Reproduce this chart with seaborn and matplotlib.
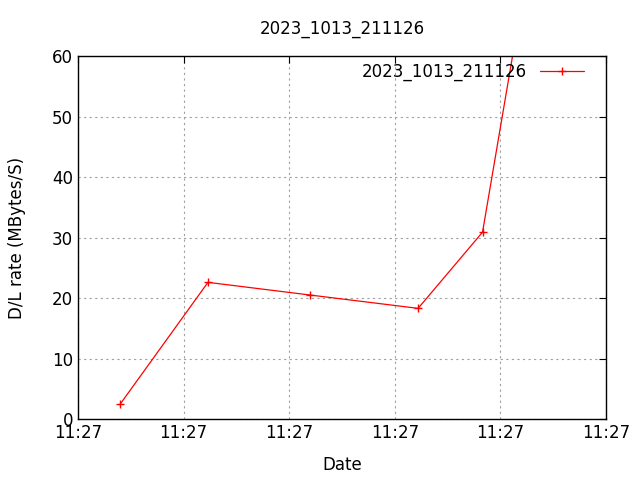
import seaborn as sns
import matplotlib.pyplot as plt
import pandas as pd

# elapsed seconds since 11:27:00 and download rate
seconds = [4.0, 12.3, 22.0, 32.2, 38.3, 42.0]
rates = [2.5, 22.6, 20.5, 18.3, 30.9, 68.8]
tick_pos = [0, 10, 20, 30, 40, 50]
tick_labels = ["11:27"] * 6
run_name = "2023_1013_211126"

df = pd.DataFrame({"Date": seconds, "rate": rates})

sns.set_style("white")
plt.rcParams['font.family'] = ['DejaVu Sans']
plt.rcParams['text.color'] = 'black'
plt.rcParams['axes.labelcolor'] = 'black'
fig, ax = plt.subplots(figsize=(6.4, 4.8), dpi=100)
fig.subplots_adjust(left=0.122, right=0.947, top=0.883, bottom=0.127)

sns.lineplot(data=df, x="Date", y="rate", ax=ax, color="red", linewidth=0.9,
             marker="+", markersize=6, markeredgewidth=1, markeredgecolor="red",
             dashes=False, label=run_name)

ax.set_xlim(0, 50)
ax.set_ylim(0, 60)
ax.set_xticks(tick_pos)
ax.set_xticklabels(tick_labels)
ax.set_yticks(range(0, 61, 10))
ax.grid(True, color="#a0a0a0", linestyle=(0, (2, 3)), linewidth=0.8)
for s in ax.spines.values():
    s.set_color("black")
    s.set_linewidth(1)
ax.tick_params(direction="in", top=True, right=True, length=5, labelsize=12, colors="black")
ax.set_title(run_name, fontsize=12, pad=16, color="black")
ax.set_xlabel("Date", fontsize=12, labelpad=10)
ax.set_ylabel("D/L rate (MBytes/S)", fontsize=12, labelpad=19)
ax.legend(loc="upper right", frameon=False, markerfirst=False, fontsize=12,
          handlelength=2.6, borderaxespad=0.0, handletextpad=0.8,
          bbox_to_anchor=(0.97, 1.0))

plt.savefig("out.png", dpi=100)
